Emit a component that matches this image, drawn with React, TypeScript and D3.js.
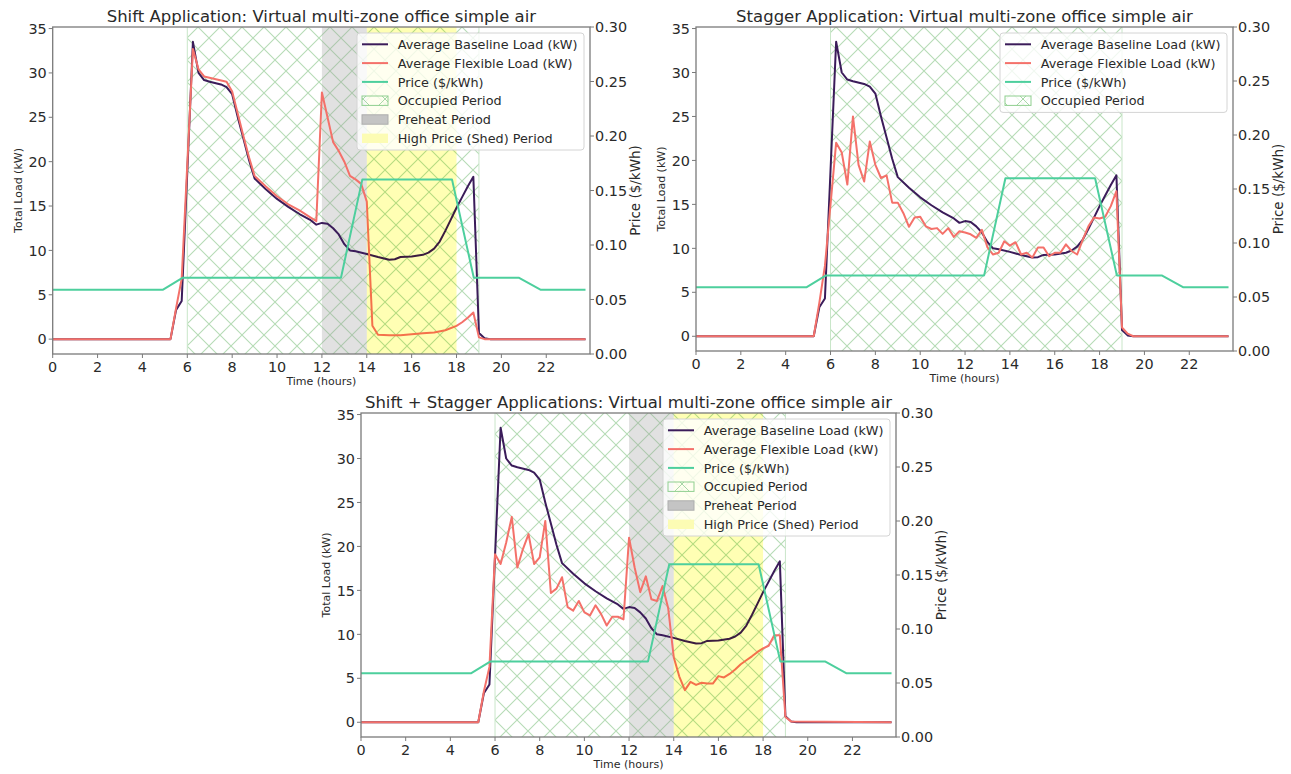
import React from 'react';
import * as d3 from 'd3';

const W = 1291;
const H = 774;
const FONT = '"DejaVu Sans", Verdana, sans-serif';

// average baseline load (kW), same in all three runs
const baselineHours = [0, 5.25, 5.5, 5.75, 6.25, 6.5, 6.75, 7.0, 7.5, 7.75, 8.0, 8.25, 8.5, 8.75, 9.0, 9.5, 10.0, 10.5, 11.0, 11.5, 11.75, 12.0, 12.25, 12.5, 12.75, 13.0, 13.25, 13.5, 14.0, 14.5, 15.0, 15.25, 15.5, 16.0, 16.5, 16.75, 17.0, 17.25, 17.5, 17.75, 18.0, 18.25, 18.5, 18.75, 19.0, 19.25, 19.5, 23.75];
const baselineLoad = [0, 0, 3.3, 4.3, 33.5, 30.0, 29.2, 29.0, 28.7, 28.4, 27.6, 25.0, 22.6, 20.2, 18.1, 16.9, 15.8, 14.9, 14.1, 13.4, 12.9, 13.1, 13.0, 12.5, 11.8, 10.7, 10.0, 9.9, 9.6, 9.25, 8.95, 9.0, 9.25, 9.3, 9.5, 9.75, 10.2, 11.0, 12.2, 13.5, 14.8, 16.0, 17.2, 18.3, 0.7, 0.1, 0, 0];

// flexible load, shift application
const shiftHours = [0, 5.25, 5.5, 5.75, 6.25, 6.5, 6.75, 7.75, 8.0, 8.25, 8.5, 8.75, 9.0, 9.5, 10.0, 10.5, 11.0, 11.5, 11.75, 12.0, 12.25, 12.5, 12.75, 13.0, 13.25, 13.5, 13.75, 14.0, 14.25, 14.5, 15.0, 15.5, 16.0, 16.5, 17.0, 17.5, 18.0, 18.25, 18.5, 18.75, 19.0, 19.25, 23.75];
const shiftLoad = [0, 0, 3.5, 6.8, 32.7, 30.4, 29.6, 29.0, 27.9, 25.4, 22.9, 20.5, 18.4, 17.2, 16.1, 15.2, 14.5, 13.7, 13.3, 27.8, 25.0, 22.2, 21.2, 20.0, 18.4, 18.0, 17.5, 15.5, 1.5, 0.5, 0.45, 0.45, 0.55, 0.65, 0.75, 1.0, 1.5, 1.9, 2.4, 3.0, 0.2, 0, 0];

// flexible load, stagger application
const staggerHours = [0, 5.25, 5.5, 5.75, 6.25, 6.5, 6.75, 7.0, 7.25, 7.5, 7.75, 8.0, 8.25, 8.5, 8.75, 9.0, 9.25, 9.5, 9.75, 10.0, 10.25, 10.5, 10.75, 11.0, 11.25, 11.5, 11.75, 12.0, 12.25, 12.5, 12.75, 13.0, 13.25, 13.5, 13.75, 14.0, 14.25, 14.5, 14.75, 15.0, 15.25, 15.5, 15.75, 16.0, 16.25, 16.5, 16.75, 17.0, 17.25, 17.5, 17.75, 18.0, 18.25, 18.5, 18.75, 19.0, 19.25, 19.5, 23.75];
const staggerLoad = [0, 0, 3.8, 8.0, 22.0, 20.9, 17.25, 25.0, 19.5, 17.6, 22.15, 19.5, 18.0, 18.3, 15.2, 15.2, 14.0, 12.45, 13.5, 13.6, 12.5, 12.2, 12.3, 11.65, 12.3, 11.3, 11.95, 11.8, 11.6, 11.2, 12.1, 10.1, 9.3, 9.5, 10.8, 10.3, 10.7, 9.3, 9.5, 8.95, 10.1, 10.1, 9.1, 9.5, 9.5, 10.45, 9.7, 9.3, 11.0, 12.5, 13.5, 13.4, 13.6, 14.8, 16.5, 1.0, 0.3, 0, 0];

// flexible load, shift + stagger
const comboHours = [0, 5.25, 5.5, 5.75, 6.0, 6.25, 6.5, 6.75, 7.0, 7.25, 7.5, 7.75, 8.0, 8.25, 8.5, 8.75, 9.0, 9.25, 9.5, 9.75, 10.0, 10.25, 10.5, 10.75, 11.0, 11.25, 11.5, 11.75, 12.0, 12.25, 12.5, 12.75, 13.0, 13.25, 13.5, 13.75, 14.0, 14.25, 14.5, 14.75, 15.0, 15.25, 15.5, 15.75, 16.0, 16.25, 16.5, 16.75, 17.0, 17.25, 17.5, 17.75, 18.0, 18.25, 18.5, 18.75, 19.0, 19.25, 23.75];
const comboLoad = [0, 0, 3.5, 6.3, 19.1, 18.0, 20.45, 23.36, 17.6, 19.7, 21.4, 18.0, 18.75, 22.9, 14.7, 15.2, 16.5, 13.1, 12.7, 13.8, 12.5, 12.15, 13.3, 12.3, 11.0, 12.0, 12.0, 11.7, 21.0, 17.6, 14.8, 16.6, 14.0, 13.8, 15.5, 13.0, 7.4, 5.2, 3.66, 4.6, 4.25, 4.5, 4.4, 4.4, 5.25, 5.1, 5.5, 6.0, 6.6, 7.05, 7.5, 8.0, 8.4, 8.7, 9.9, 9.9, 0.6, 0.1, 0];

// price ($/kWh)
const priceHours = [0, 4.92, 5.8, 12.85, 13.8, 17.8, 18.77, 20.77, 21.74, 23.75];
const priceValues = [0.059, 0.059, 0.07, 0.07, 0.16, 0.16, 0.07, 0.07, 0.059, 0.059];

const occupiedPeriod = [6, 19];
const preheatPeriod = [12, 14];
const shedPeriod = [14, 18];

const xTicks = [0, 2, 4, 6, 8, 10, 12, 14, 16, 18, 20, 22];
const loadTicks = [0, 5, 10, 15, 20, 25, 30, 35];
const priceTicks = [0, 0.05, 0.1, 0.15, 0.2, 0.25, 0.3];

const legendLabels = [
  'Average Baseline Load (kW)',
  'Average Flexible Load (kW)',
  'Price ($/kWh)',
  'Occupied Period',
  'Preheat Period',
  'High Price (Shed) Period',
];

const C_BASE = '#3b1c5a';
const C_FLEX = '#f4716a';
const C_PRICE = '#4dcf9d';
const C_HATCH = '#b6dcb6';
const C_SPINE = '#7a7a7a';
const C_TEXT = '#2a2a2a';

const zip = (a: number[], b: number[]) => a.map((v, i) => [v, b[i]] as [number, number]);

type Box = { l: number; t: number; r: number; b: number };

function Panel({ id, box, title, hours, load, zones }: { id: string; box: Box; title: string; hours: number[]; load: number[]; zones: boolean }) {
  const x = d3.scaleLinear().domain([0, 23.95]).range([box.l, box.r]);
  const yL = d3.scaleLinear().domain([-1.675, 35.175]).range([box.b, box.t]);
  const yR = d3.scaleLinear().domain([0, 0.3]).range([box.b, box.t]);
  const loadLine = d3.line<[number, number]>().x(d => x(d[0])).y(d => yL(d[1]));
  const priceLine = d3.line<[number, number]>().x(d => x(d[0])).y(d => yR(d[1]));
  const cx = (box.l + box.r) / 2;
  const cy = (box.t + box.b) / 2;

  const nItems = zones ? 6 : 4;
  const lgW = 227;
  const lgX = box.r - 6 - lgW;
  const lgY = box.t + 6;
  const rowH = 18.8;
  const lgH = 11.3 + (nItems - 1) * rowH + 11.7;

  return (
    <g>
      <defs>
        <clipPath id={`clip-${id}`}>
          <rect x={box.l} y={box.t} width={box.r - box.l} height={box.b - box.t} />
        </clipPath>
      </defs>
      <g clipPath={`url(#clip-${id})`}>
        <rect x={x(occupiedPeriod[0])} y={box.t} width={x(occupiedPeriod[1]) - x(occupiedPeriod[0])} height={box.b - box.t} fill="url(#hatchX)" />
        {occupiedPeriod.map(h => (
          <line key={h} x1={x(h)} x2={x(h)} y1={box.t} y2={box.b} stroke="#c9e6c9" strokeWidth={1} />
        ))}
        {zones && (
          <rect x={x(preheatPeriod[0])} y={box.t} width={x(preheatPeriod[1]) - x(preheatPeriod[0])} height={box.b - box.t} fill="#9a9a9a" opacity={0.3} />
        )}
        <path d={loadLine(zip(baselineHours, baselineLoad)) || ''} fill="none" stroke={C_BASE} strokeWidth={2} strokeLinejoin="round" />
        <path d={loadLine(zip(hours, load)) || ''} fill="none" stroke={C_FLEX} strokeWidth={2} strokeLinejoin="round" />
        {zones && (
          <rect x={x(shedPeriod[0])} y={box.t} width={x(shedPeriod[1]) - x(shedPeriod[0])} height={box.b - box.t} fill="#ffffb4" style={{ mixBlendMode: 'multiply' }} />
        )}
        <path d={priceLine(zip(priceHours, priceValues)) || ''} fill="none" stroke={C_PRICE} strokeWidth={2} strokeLinejoin="round" />
      </g>

      {/* spines */}
      <rect x={box.l} y={box.t} width={box.r - box.l} height={box.b - box.t} fill="none" stroke={C_SPINE} strokeWidth={1.3} />

      {/* x axis */}
      {xTicks.map(t => (
        <g key={t}>
          <line x1={x(t)} x2={x(t)} y1={box.b} y2={box.b + 4} stroke={C_SPINE} strokeWidth={1} />
          <text x={x(t)} y={box.b + 18} textAnchor="middle" fontSize={14.4} fill={C_TEXT}>{t}</text>
        </g>
      ))}
      <text x={cx} y={box.b + 31} textAnchor="middle" fontSize={11} fill={C_TEXT}>Time (hours)</text>

      {/* left axis */}
      {loadTicks.map(t => (
        <g key={t}>
          <line x1={box.l - 4} x2={box.l} y1={yL(t)} y2={yL(t)} stroke={C_SPINE} strokeWidth={1} />
          <text x={box.l - 6} y={yL(t)} dy="0.36em" textAnchor="end" fontSize={14.4} fill={C_TEXT}>{t}</text>
        </g>
      ))}
      <text transform={`translate(${box.l - 35},${cy}) rotate(-90)`} textAnchor="middle" dy="0.35em" fontSize={11} fill={C_TEXT}>Total Load (kW)</text>

      {/* right axis */}
      {priceTicks.map(t => (
        <g key={t}>
          <line x1={box.r} x2={box.r + 4} y1={yR(t)} y2={yR(t)} stroke={C_SPINE} strokeWidth={1} />
          <text x={box.r + 5} y={yR(t)} dy="0.36em" textAnchor="start" fontSize={14.4} fill={C_TEXT}>{t.toFixed(2)}</text>
        </g>
      ))}
      <text transform={`translate(${box.r + 45},${cy}) rotate(-90)`} textAnchor="middle" dy="0.35em" fontSize={13.5} fill={C_TEXT}>Price ($/kWh)</text>

      <text x={cx} y={box.t - 5} textAnchor="middle" fontSize={16.5} fill={C_TEXT}>{title}</text>

      {/* legend */}
      <g>
        <rect x={lgX} y={lgY} width={lgW} height={lgH} rx={3} fill="#ffffff" fillOpacity={0.8} stroke="#d4d4d4" strokeWidth={1} />
        {legendLabels.slice(0, nItems).map((label, i) => {
          const ry = lgY + 11.3 + i * rowH;
          const hx = lgX + 5;
          const hw = 26;
          let handle;
          if (i === 0) handle = <line x1={hx} x2={hx + hw} y1={ry} y2={ry} stroke={C_BASE} strokeWidth={2} />;
          else if (i === 1) handle = <line x1={hx} x2={hx + hw} y1={ry} y2={ry} stroke={C_FLEX} strokeWidth={2} />;
          else if (i === 2) handle = <line x1={hx} x2={hx + hw} y1={ry} y2={ry} stroke={C_PRICE} strokeWidth={2} />;
          else if (i === 3) handle = <rect x={hx} y={ry - 4.7} width={hw} height={9.4} fill="url(#hatchLegend)" stroke="#8fcf8f" strokeWidth={1} />;
          else if (i === 4) handle = <rect x={hx} y={ry - 4.7} width={hw} height={9.4} fill="#c4c4c4" stroke="#adadad" strokeWidth={1} />;
          else handle = <rect x={hx} y={ry - 4.7} width={hw} height={9.4} fill="#fcfcb4" />;
          return (
            <g key={label}>
              {handle}
              <text x={lgX + 40.7} y={ry} dy="0.36em" fontSize={12.8} fill={C_TEXT}>{label}</text>
            </g>
          );
        })}
      </g>
    </g>
  );
}

export default function App() {
  return (
    <svg width={W} height={H} style={{ position: 'absolute', left: 0, top: 0, background: '#fff', fontFamily: FONT }}>
      <defs>
        <pattern id="hatchX" patternUnits="userSpaceOnUse" width={22} height={22} x={0} y={5}>
          <path d="M0,0L22,22M22,0L0,22" stroke={C_HATCH} strokeWidth={1.1} strokeLinecap="square" />
        </pattern>
        <pattern id="hatchLegend" patternUnits="userSpaceOnUse" width={22} height={22} x={0} y={0}>
          <path d="M0,0L22,22M22,0L0,22" stroke="#a8d8a8" strokeWidth={1} />
        </pattern>
      </defs>
      <rect x={0} y={0} width={W} height={H} fill="#fff" />
      <Panel id="a" box={{ l: 52.7, t: 27, r: 590, b: 354 }} title="Shift Application: Virtual multi-zone office simple air" hours={shiftHours} load={shiftLoad} zones={true} />
      <Panel id="b" box={{ l: 696, t: 27, r: 1233, b: 351 }} title="Stagger Application: Virtual multi-zone office simple air" hours={staggerHours} load={staggerLoad} zones={false} />
      <Panel id="c" box={{ l: 361, t: 413, r: 896, b: 737 }} title="Shift + Stagger Applications: Virtual multi-zone office simple air" hours={comboHours} load={comboLoad} zones={true} />
    </svg>
  );
}
